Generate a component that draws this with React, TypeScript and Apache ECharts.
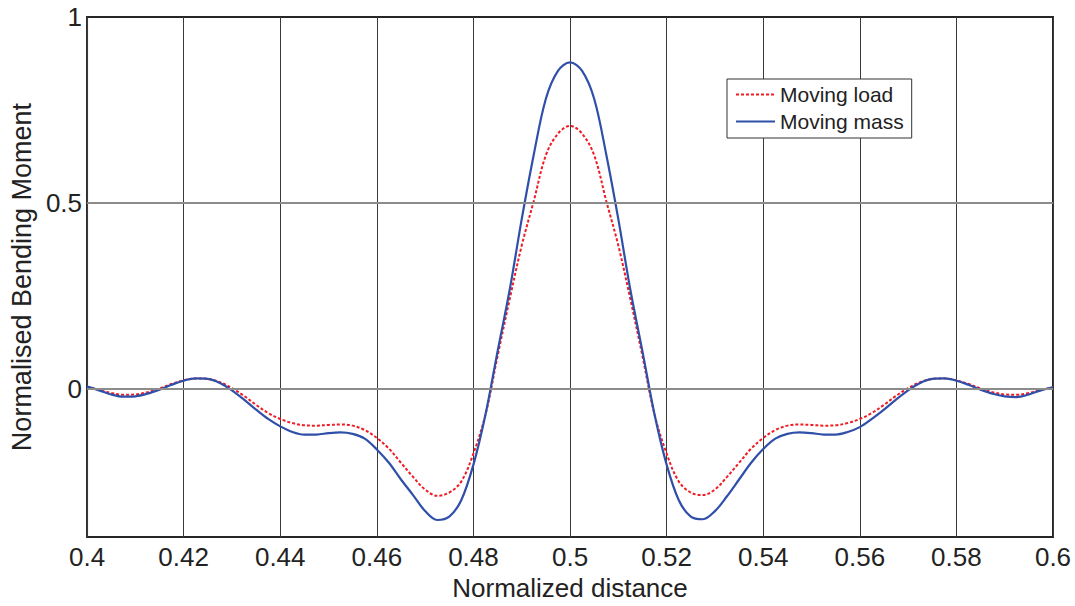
import React, { useEffect, useRef } from "react";
import * as echarts from "echarts";

const xValues = [
  0.4, 0.4025, 0.405, 0.4075, 0.41, 0.4125, 0.415, 0.4175, 0.42, 0.4225,
  0.425, 0.4275, 0.43, 0.4325, 0.435, 0.4375, 0.44, 0.4425, 0.445, 0.4475,
  0.45, 0.4525, 0.455, 0.4575, 0.46, 0.4625, 0.465, 0.4675, 0.47, 0.4725,
  0.475, 0.4775, 0.48, 0.4825, 0.485, 0.4875, 0.49, 0.4925, 0.495, 0.4975,
  0.5,
  0.5025, 0.505, 0.5075, 0.51, 0.5125, 0.515, 0.5175, 0.52, 0.5225, 0.525,
  0.5275, 0.53, 0.5325, 0.535, 0.5375, 0.54, 0.5425, 0.545, 0.5475, 0.55,
  0.5525, 0.555, 0.5575, 0.56, 0.5625, 0.565, 0.5675, 0.57, 0.5725, 0.575,
  0.5775, 0.58, 0.5825, 0.585, 0.5875, 0.59, 0.5925, 0.595, 0.5975, 0.6,
];

const movingLoad = [
  0.005, -0.004, -0.012, -0.017, -0.016, -0.01, 0.0, 0.012, 0.022, 0.027,
  0.026, 0.017, 0.001, -0.02, -0.044, -0.066, -0.082, -0.093, -0.099, -0.1,
  -0.098, -0.097, -0.1, -0.112, -0.133, -0.162, -0.2, -0.238, -0.272, -0.289,
  -0.28, -0.25, -0.175, -0.07, 0.087, 0.24, 0.385, 0.505, 0.628, 0.686,
  0.707,
  0.686, 0.628, 0.505, 0.385, 0.24, 0.087, -0.07, -0.175, -0.25, -0.28,
  -0.287, -0.272, -0.238, -0.2, -0.162, -0.133, -0.112, -0.1, -0.097, -0.098,
  -0.1, -0.099, -0.093, -0.082, -0.066, -0.044, -0.02, 0.001, 0.017, 0.026,
  0.027, 0.022, 0.012, 0.0, -0.01, -0.016, -0.017, -0.012, -0.004, 0.003,
];

const movingMass = [
  0.005, -0.005, -0.016, -0.022, -0.021, -0.014, -0.003, 0.01, 0.021, 0.027,
  0.026, 0.015, -0.005, -0.03, -0.057, -0.082, -0.102, -0.117, -0.124, -0.124,
  -0.12, -0.118, -0.122, -0.135, -0.164, -0.2, -0.245, -0.287, -0.33, -0.354,
  -0.345, -0.3, -0.205, -0.07, 0.1, 0.265, 0.456, 0.63, 0.78, 0.855,
  0.878,
  0.855, 0.78, 0.63, 0.456, 0.265, 0.1, -0.07, -0.205, -0.3, -0.345,
  -0.352, -0.33, -0.29, -0.245, -0.2, -0.163, -0.135, -0.122, -0.118, -0.12,
  -0.124, -0.124, -0.117, -0.104, -0.082, -0.057, -0.03, -0.005, 0.015, 0.026,
  0.027, 0.021, 0.01, -0.003, -0.014, -0.021, -0.023, -0.016, -0.005, 0.003,
];

const yTickLabels = [0, 0.5, 1];
const yGridValues = [0, 0.5];
const seriesNames = ["Moving load", "Moving mass"];

const FONT = "'Liberation Sans', Arial, Helvetica, sans-serif";
const TEXT = "#222222";

export default function App() {
  const ref = useRef<HTMLDivElement>(null);

  useEffect(() => {
    if (!ref.current) return;
    const chart = echarts.init(ref.current, undefined, { renderer: "svg" });
    const option = {
      animation: false,
      backgroundColor: "#ffffff",
      textStyle: { fontFamily: FONT },
      grid: {
        left: 86,
        right: 22,
        top: 17,
        bottom: 63,
        show: true,
        borderColor: "#262626",
        borderWidth: 2,
        backgroundColor: "transparent",
      },
      legend: {
        data: seriesNames,
        orient: "vertical",
        left: 727,
        top: 79,
        padding: [5, 8, 6, 8],
        itemGap: 6,
        itemWidth: 39,
        itemHeight: 14,
        backgroundColor: "#ffffff",
        borderColor: "#333333",
        borderWidth: 1,
        borderRadius: 0,
        itemStyle: { color: "transparent", borderWidth: 0, opacity: 0 },
        textStyle: { fontSize: 21, color: TEXT, fontFamily: FONT },
      },
      xAxis: {
        type: "value",
        min: 0.4,
        max: 0.6,
        interval: 0.02,
        name: "Normalized distance",
        nameLocation: "middle",
        nameGap: 28,
        nameTextStyle: { fontSize: 26, color: TEXT, fontFamily: FONT },
        axisLine: { show: false, onZero: false },
        axisTick: { show: false },
        axisLabel: {
          fontSize: 26,
          color: TEXT,
          margin: 7,
          fontFamily: FONT,
          formatter: (v: number) => String(+v.toFixed(2)),
        },
        splitLine: { show: true, lineStyle: { color: "#3a3a3a", width: 1 } },
      },
      yAxis: {
        type: "value",
        min: -0.4,
        max: 1,
        interval: 0.1,
        name: "Normalised Bending Moment",
        nameLocation: "middle",
        nameGap: 50,
        nameTextStyle: { fontSize: 27, color: TEXT, fontFamily: FONT },
        axisLine: { show: false, onZero: false },
        axisTick: { show: false },
        axisLabel: {
          fontSize: 26,
          color: TEXT,
          margin: 5,
          fontFamily: FONT,
          formatter: (v: number) => {
            const hit = yTickLabels.find((t) => Math.abs(t - v) < 1e-6);
            return hit === undefined ? "" : String(hit);
          },
        },
        splitLine: { show: false },
      },
      series: [
        {
          name: "gridlines",
          type: "line",
          data: [],
          z: 1,
          silent: true,
          markLine: {
            silent: true,
            symbol: "none",
            label: { show: false },
            lineStyle: { color: "#8c8c8c", width: 2, type: "solid" },
            data: yGridValues.map((v) => ({ yAxis: v })),
          },
        },
        {
          name: seriesNames[0],
          type: "line",
          data: xValues.map((x, i) => [x, movingLoad[i]]),
          smooth: 0.35,
          showSymbol: false,
          symbol: "none",
          z: 3,
          lineStyle: { color: "#ee1c24", width: 2, type: [3, 2] },
          itemStyle: { color: "#ee1c24" },
        },
        {
          name: seriesNames[1],
          type: "line",
          data: xValues.map((x, i) => [x, movingMass[i]]),
          smooth: 0.35,
          showSymbol: false,
          symbol: "none",
          z: 4,
          lineStyle: { color: "#2f4fa8", width: 2.2 },
          itemStyle: { color: "#2f4fa8" },
        },
      ],
    };
    chart.setOption(option as any);
    return () => chart.dispose();
  }, []);

  return (
    <div
      ref={ref}
      style={{
        position: "fixed",
        left: 0,
        top: 0,
        width: 1075,
        height: 606,
        background: "#ffffff",
      }}
    />
  );
}
